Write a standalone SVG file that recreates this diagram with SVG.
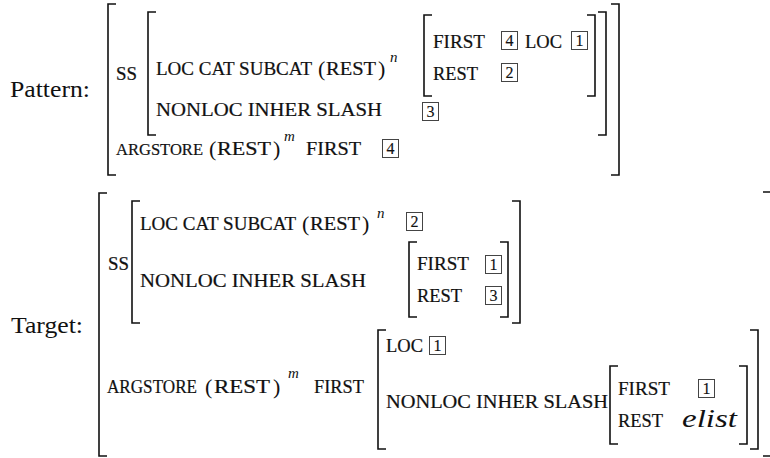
<svg xmlns="http://www.w3.org/2000/svg" width="770" height="458" viewBox="0 0 770 458">
<style>
text{font-family:"Liberation Serif","Times New Roman",serif;fill:#111}
.lbl{font-size:23px}
.sc{font-size:18px;stroke:#111;stroke-width:0.2}
.rm{font-size:22px}
.sup{font-size:15px;font-style:italic}
.it{font-size:25px;font-style:italic}
.num{font-size:16px;text-anchor:middle;stroke:#111;stroke-width:0.15}
.box{fill:none;stroke:#444;stroke-width:1}
.br{fill:none;stroke:#111;stroke-width:1.6}
</style>
<rect width="770" height="458" fill="#fff"/>

<g id="pattern">
  <text class="lbl" x="10" y="97" textLength="80" lengthAdjust="spacingAndGlyphs">Pattern:</text>
  <g id="pattern-brackets">
    <path class="br" d="M116,4 H108 V175 H116"/>
    <path class="br" d="M611,4 H619 V175 H611"/>
    <path class="br" d="M156,12 H148 V135 H156"/>
    <path class="br" d="M598,12 H606 V135 H598"/>
    <path class="br" d="M432,15 H424 V96 H432"/>
    <path class="br" d="M587,15 H595 V96 H587"/>
  </g>
  <text class="sc" x="116" y="80" textLength="21" lengthAdjust="spacingAndGlyphs">SS</text>
  <g id="p-loc">
    <text class="sc" x="156" y="75" textLength="156" lengthAdjust="spacingAndGlyphs">LOC CAT SUBCAT</text>
    <text class="rm" x="318" y="76">(</text>
    <text class="sc" x="326" y="75" textLength="50" lengthAdjust="spacingAndGlyphs">REST</text>
    <text class="rm" x="378" y="76">)</text>
    <text class="sup" x="390" y="62">n</text>
  </g>
  <g id="p-list">
    <text class="sc" x="433" y="48" textLength="52" lengthAdjust="spacingAndGlyphs">FIRST</text>
    <rect class="box" x="501.5" y="31.5" width="16" height="18"/>
    <text class="num" x="509.5" y="46">4</text>
    <text class="sc" x="525" y="48" textLength="37" lengthAdjust="spacingAndGlyphs">LOC</text>
    <rect class="box" x="571.5" y="31.5" width="16" height="18"/>
    <text class="num" x="579.5" y="46">1</text>
    <text class="sc" x="433" y="80" textLength="45" lengthAdjust="spacingAndGlyphs">REST</text>
    <rect class="box" x="501.5" y="63.5" width="16" height="18"/>
    <text class="num" x="509.5" y="78">2</text>
  </g>
  <g id="p-nonloc">
    <text class="sc" x="156" y="116" textLength="226" lengthAdjust="spacingAndGlyphs">NONLOC INHER SLASH</text>
    <rect class="box" x="422.5" y="102.5" width="16" height="18"/>
    <text class="num" x="430.5" y="117">3</text>
  </g>
  <g id="p-argstore">
    <text class="sc" x="116" y="155" style="font-size:17px" textLength="87" lengthAdjust="spacingAndGlyphs">ARGSTORE</text>
    <text class="rm" x="209" y="156">(</text>
    <text class="sc" x="217" y="155" textLength="54" lengthAdjust="spacingAndGlyphs">REST</text>
    <text class="rm" x="273" y="156">)</text>
    <text class="sup" x="284" y="141">m</text>
    <text class="sc" x="306" y="155" textLength="55" lengthAdjust="spacingAndGlyphs">FIRST</text>
    <rect class="box" x="382.5" y="139.5" width="16" height="18"/>
    <text class="num" x="390.5" y="154">4</text>
  </g>
</g>

<g id="target">
  <text class="lbl" x="11" y="333" textLength="72" lengthAdjust="spacingAndGlyphs">Target:</text>
  <g id="target-brackets">
    <path class="br" d="M107,193 H99 V456 H107"/>
    <path class="br" d="M763,192 H771 V456 H763"/>
    <path class="br" d="M140,201 H132 V323 H140"/>
    <path class="br" d="M512,201 H520 V323 H512"/>
    <path class="br" d="M417,242 H409 V317 H417"/>
    <path class="br" d="M500,242 H508 V317 H500"/>
    <path class="br" d="M386,330 H378 V449 H386"/>
    <path class="br" d="M750,330 H758 V449 H750"/>
    <path class="br" d="M618,366 H610 V444 H618"/>
    <path class="br" d="M739,366 H747 V444 H739"/>
  </g>
  <text class="sc" x="108" y="270" textLength="21" lengthAdjust="spacingAndGlyphs">SS</text>
  <g id="t-loc">
    <text class="sc" x="140" y="230" textLength="156" lengthAdjust="spacingAndGlyphs">LOC CAT SUBCAT</text>
    <text class="rm" x="302" y="231">(</text>
    <text class="sc" x="310" y="230" textLength="50" lengthAdjust="spacingAndGlyphs">REST</text>
    <text class="rm" x="362" y="231">)</text>
    <text class="sup" x="377" y="218">n</text>
    <rect class="box" x="406.5" y="212.5" width="16" height="18"/>
    <text class="num" x="414.5" y="227">2</text>
  </g>
  <g id="t-nonloc">
    <text class="sc" x="140" y="287" textLength="226" lengthAdjust="spacingAndGlyphs">NONLOC INHER SLASH</text>
    <text class="sc" x="417" y="270" textLength="52" lengthAdjust="spacingAndGlyphs">FIRST</text>
    <rect class="box" x="485.5" y="255.5" width="16" height="18"/>
    <text class="num" x="493.5" y="270">1</text>
    <text class="sc" x="417" y="302" textLength="45" lengthAdjust="spacingAndGlyphs">REST</text>
    <rect class="box" x="485.5" y="286.5" width="16" height="18"/>
    <text class="num" x="493.5" y="301">3</text>
  </g>
  <g id="t-argstore">
    <text class="sc" x="107" y="393" textLength="90" lengthAdjust="spacingAndGlyphs">ARGSTORE</text>
    <text class="rm" x="205" y="394">(</text>
    <text class="sc" x="214" y="393" textLength="56" lengthAdjust="spacingAndGlyphs">REST</text>
    <text class="rm" x="273" y="394">)</text>
    <text class="sup" x="288" y="378">m</text>
    <text class="sc" x="314" y="393" textLength="50" lengthAdjust="spacingAndGlyphs">FIRST</text>
  </g>
  <g id="t-first">
    <text class="sc" x="386" y="352" textLength="37" lengthAdjust="spacingAndGlyphs">LOC</text>
    <rect class="box" x="429.5" y="336.5" width="16" height="18"/>
    <text class="num" x="437.5" y="351">1</text>
    <text class="sc" x="386" y="408" textLength="222" lengthAdjust="spacingAndGlyphs">NONLOC INHER SLASH</text>
    <text class="sc" x="618" y="395" textLength="52" lengthAdjust="spacingAndGlyphs">FIRST</text>
    <rect class="box" x="698.5" y="379.5" width="16" height="18"/>
    <text class="num" x="706.5" y="394">1</text>
    <text class="sc" x="618" y="427" textLength="45" lengthAdjust="spacingAndGlyphs">REST</text>
    <text class="it" x="682" y="427" textLength="55" lengthAdjust="spacingAndGlyphs">elist</text>
  </g>
</g>
</svg>
